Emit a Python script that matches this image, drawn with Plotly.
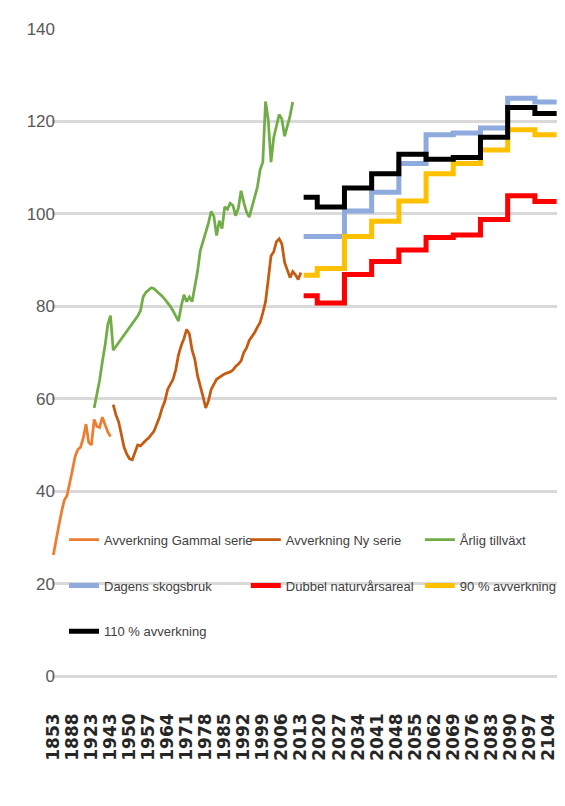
import plotly.graph_objects as go

# categories (years) on the x axis
years = list(range(1853, 1924, 5)) + [1926, 1929, 1932, 1935, 1938, 1941] + list(range(1943, 2108))
cats = [str(y) for y in years]
tick_labels = cats[::7]

# historical series
gammal = [26.2, 29, 32.5, 35.5, 38, 39, 41.5, 44.5, 47.5, 49, 49.5, 51.5,
          54.5, 50.5, 50, 55.5, 54, 53.8, 56, 54.5, 52.8, 51.8]

ny_serie = [58.7, 56.5, 55, 52, 49.5, 48, 47, 46.8, 48.5, 50, 49.8, 50.5,
            51, 51.5, 52.3, 53, 54.5, 56, 58, 59.5, 62, 63, 64.2, 66.3,
            69.5, 71.5, 73, 75, 74, 70.5, 68.5, 65, 63, 60.5, 58, 59.5,
            62, 63.2, 64.2, 64.6, 65, 65.4, 65.6, 65.8, 66.2, 67, 67.5, 68.2,
            70, 71, 72.6, 73.5, 74.3, 75.5, 76.5, 78.6, 81, 85.8, 90.9, 91.8,
            94, 94.6, 93.5, 89.5, 88, 86.2, 87.5, 86.8, 85.8, 87.3]

tillvaxt = [58, 61, 64, 68, 71.5, 76, 78, 70.5, 71.3, 72.2, 73, 73.7,
            74.6, 75.5, 76.1, 77, 77.9, 79, 82, 83, 83.6, 84, 83.8, 83.3,
            82.8, 82.2, 81.5, 80.8, 80, 79, 78, 76.8, 80, 82.5, 81, 82,
            81, 84, 87.5, 92, 94, 95.5, 98, 100.5, 99.5, 95.3, 98.5, 96.8,
            101.5, 101, 102.3, 101.8, 99.6, 101.2, 105, 102.5, 100.4, 99.3, 101.5, 104.2,
            105.8, 109.5, 111.2, 124.3, 120.3, 111.2, 116.5, 119, 121.5, 120.5, 116.8, 119,
            121.2, 124.2]

# scenarios (value from each period start)
period_start = ["2014", "2019", "2029", "2039", "2049", "2059", "2069", "2079", "2089", "2099", "2107"]
dagens = [95.1, 95.1, 100.6, 104.7, 110.9, 117.1, 117.5, 118.6, 125.0, 124.2, 124.2]
dubbel = [82.3, 80.7, 86.9, 89.7, 92.2, 94.9, 95.4, 98.8, 103.9, 102.7, 102.7]
avv_90 = [86.7, 88.2, 95.1, 98.4, 102.8, 108.7, 110.9, 113.8, 118.2, 117.1, 117.1]
avv_110 = [103.6, 101.5, 105.6, 108.7, 112.9, 111.8, 112.2, 116.6, 123.0, 121.7, 121.7]

sans = "Liberation Sans, Arial, sans-serif"

fig = go.Figure()

series = [
    ("Avverkning Gammal serie", cats[:22], gammal, "#ED7D31", 2.75, "linear", "legend"),
    ("Avverkning Ny serie", cats[22:92], ny_serie, "#C55A11", 2.75, "linear", "legend2"),
    ("Årlig tillväxt", cats[15:89], tillvaxt, "#70AD47", 2.75, "linear", "legend3"),
    ("Dagens skogsbruk", period_start, dagens, "#8FAADC", 5, "hv", "legend"),
    ("Dubbel naturvårsareal", period_start, dubbel, "#FF0000", 5, "hv", "legend2"),
    ("90 % avverkning", period_start, avv_90, "#FFC000", 5, "hv", "legend3"),
    ("110 % avverkning", period_start, avv_110, "#000000", 5, "hv", "legend"),
]

for name, x, y, color, width, shape, leg in series:
    fig.add_trace(
        go.Scatter(
            x=x,
            y=y,
            mode="lines",
            name=name,
            legend=leg,
            legendgroup=name,
            line=dict(color=color, width=width, shape=shape),
        )
    )

legend_style = dict(
    bgcolor="rgba(0,0,0,0)",
    borderwidth=0,
    orientation="v",
    xanchor="left",
    yanchor="top",
    y=0.234,
    traceorder="grouped",
    tracegroupgap=26,
    font=dict(family=sans, size=13, color="#404040"),
)

# white patch hiding the gridline behind the legend
fig.add_shape(
    type="rect", xref="paper", yref="y",
    x0=0.026, x1=1, y0=15, y1=25,
    fillcolor="white", line=dict(width=0), layer="between",
)

# page body adds an 8 px offset, so the figure is 8 px smaller
fig.update_layout(
    width=557,
    height=798,
    margin=dict(l=44, r=7, t=21, b=130, autoexpand=False),
    paper_bgcolor="white",
    plot_bgcolor="white",
    showlegend=True,
    legend=dict(legend_style, x=0.0237),
    legend2=dict(legend_style, x=0.383),
    legend3=dict(legend_style, x=0.727),
    xaxis=dict(
        type="category",
        categoryorder="array",
        categoryarray=cats,
        range=[-0.5, len(cats) - 0.5],
        tickmode="array",
        tickvals=tick_labels,
        ticktext=tick_labels,
        tickangle=-90,
        ticks="",
        ticklabelstandoff=33,
        automargin=False,
        tickfont=dict(family="DejaVu Sans", size=17, color="#262626", weight="bold"),
        showgrid=False,
        showline=False,
        zeroline=False,
    ),
    yaxis=dict(
        range=[0, 140],
        tickvals=[0, 20, 40, 60, 80, 100, 120, 140],
        ticks="",
        ticklabelstandoff=-4,
        automargin=False,
        tickfont=dict(family=sans, size=17, color="#595959"),
        showgrid=True,
        gridcolor="#D9D9D9",
        gridwidth=2.5,
        zeroline=True,
        zerolinecolor="#D9D9D9",
        zerolinewidth=2.5,
        showline=False,
    ),
)

fig.write_html("out.html")
